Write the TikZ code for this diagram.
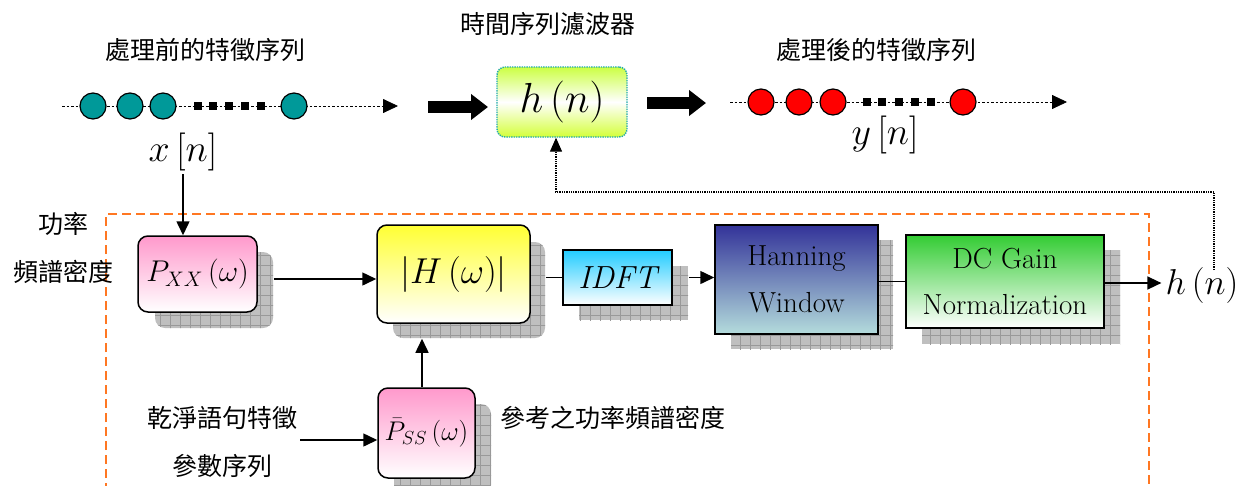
\RequirePackage{fix-cm}
\documentclass[tikz,border=0pt]{standalone}
\usepackage{fontspec}
\newfontfamily\cjk{Noto Sans CJK TC}
\usetikzlibrary{arrows.meta,patterns}
\pgfdeclarepatternformonly{biggrid}{\pgfpoint{-1pt}{-1pt}}{\pgfpoint{11pt}{11pt}}{\pgfpoint{10pt}{10pt}}{%
  \pgfsetlinewidth{0.7pt}%
  \pgfpathmoveto{\pgfpoint{0pt}{0pt}}\pgfpathlineto{\pgfpoint{10pt}{0pt}}%
  \pgfpathmoveto{\pgfpoint{0pt}{0pt}}\pgfpathlineto{\pgfpoint{0pt}{10pt}}%
  \pgfusepath{stroke}}
\definecolor{tealc}{HTML}{009999}
\definecolor{hgreen}{HTML}{CCFF44}
\definecolor{hborder}{HTML}{22AAAA}
\definecolor{pinkc}{HTML}{FF99CC}
\definecolor{yellowc}{HTML}{FFFF33}
\definecolor{cyanc}{HTML}{22CCFF}
\definecolor{navyc}{HTML}{333399}
\definecolor{paletl}{HTML}{B4DCDC}
\definecolor{greenc}{HTML}{33CC33}
\definecolor{orangec}{HTML}{FF7722}
\begin{document}
\begin{tikzpicture}[x=1pt,y=-1pt,
  lbl/.style={font=\cjk\fontsize{25}{30}\selectfont, inner sep=0pt},
  conn/.style={line width=1.5pt, -{Triangle[length=14pt,width=13pt]}},
  plainline/.style={line width=1.5pt},
  rbox/.style={draw=black, line width=1.5pt, rounded corners=10pt, inner sep=0pt},
  sbox/.style={draw=black, line width=1.5pt, inner sep=0pt},
  shadowr/.style={fill=gray!50, rounded corners=10pt, postaction={pattern=biggrid, pattern color=gray!80}},
  shadowsq/.style={fill=gray!50, postaction={pattern=biggrid, pattern color=gray!80}},
  blockarrow/.style={line width=12.5pt, -{Triangle[length=17pt,width=25pt]}},
  seqline/.style={dash pattern=on 2.5pt off 2pt, line width=0.8pt, -{Triangle[length=15pt,width=14pt]}},
  dotc/.style={circle, draw=black, line width=1.2pt, minimum size=26pt, inner sep=0pt},
  sq/.style={fill=black, minimum size=7.5pt, inner sep=0pt},
  fbline/.style={densely dotted, line width=1.3pt, -{Triangle[length=14pt,width=12pt]}},
  mathbig/.style={font=\fontsize{38}{44}\selectfont, inner sep=1pt}
]
\useasboundingbox (0,0) rectangle (1238,485);

% ---------- top row ----------
\node[lbl] (pre) at (205,50) {處理前的特徵序列};
\node[lbl] (filt) at (548,24) {時間序列濾波器};
\node[lbl] (post) at (876,50) {處理後的特徵序列};

% left sequence
\coordinate (l0) at (62,106);
\coordinate (l1) at (398,106);
\draw[seqline] (l0) -- (l1);
\foreach \i/\x in {1/93,2/130,3/163,4/294}
  \node[dotc, fill=tealc] (lc\i) at (\x,106) {};
\foreach \i/\x in {1/198,2/213,3/229,4/245,5/261}
  \node[sq] (ls\i) at (\x,106) {};
\node[mathbig] (xn) at (183,152) {$x\,[n]$};

% block arrow 1
\coordinate (ba1s) at (428,107);
\coordinate (ba1e) at (488,107);
\draw[blockarrow] (ba1s) -- (ba1e);

% filter box
\node[draw=hborder, densely dotted, line width=1.4pt, rounded corners=8pt,
      minimum width=130pt, minimum height=70pt, inner sep=0pt,
      top color=hgreen, bottom color=hgreen!85!yellow, middle color=white,
      font=\fontsize{42}{48}\selectfont] (hbox) at (562,102) {$h\,(n)$};

% block arrow 2
\coordinate (ba2s) at (647,103);
\coordinate (ba2e) at (706,103);
\draw[blockarrow] (ba2s) -- (ba2e);

% right sequence
\coordinate (r0) at (730,102);
\coordinate (r1) at (1067,102);
\draw[seqline] (r0) -- (r1);
\foreach \i/\x in {1/761,2/799,3/833,4/963}
  \node[dotc, fill=red] (rc\i) at (\x,102) {};
\foreach \i/\x in {1/867,2/882,3/899,4/915,5/931}
  \node[sq] (rs\i) at (\x,102) {};
\node[mathbig] (yn) at (885,135) {$y\,[n]$};

% ---------- dashed frame ----------
\draw[orangec, line width=1.8pt, dash pattern=on 9pt off 5pt] (106,492) -- (106,214) -- (1149,214) -- (1149,492);

\node[lbl] (psd1) at (63,224) {功率};
\node[lbl] (psd2) at (63,272) {頻譜密度};

% ---------- shadows ----------
\path[shadowr] (155,252) rectangle (273,328);
\path[shadowr] (393,242) rectangle (545,338);
\path[shadowsq] (579,266) rectangle (688,320);
\path[shadowsq] (731,240) rectangle (893,349);
\path[shadowsq] (922,250) rectangle (1120,344);
\path[shadowr] (394,404) rectangle (491,495);

% ---------- boxes ----------
\node[rbox, minimum width=119pt, minimum height=76pt, top color=pinkc, bottom color=white,
      font=\fontsize{30}{34}\selectfont] (pxx) at (197.5,274) {$P_{XX}\,(\omega)$};
\node[rbox, minimum width=153pt, minimum height=98pt, top color=yellowc, bottom color=white,
      font=\fontsize{36}{42}\selectfont] (hmag) at (453.5,274) {$\left|H\,(\omega)\right|$};
\node[sbox, minimum width=109pt, minimum height=55pt, top color=cyanc, bottom color=white,
      font=\fontsize{32}{36}\selectfont\itshape] (idft) at (617.5,277.5) {IDFT};
\node[sbox, minimum width=163pt, minimum height=109pt, top color=navyc, bottom color=paletl,
      align=center, font=\fontsize{29}{47}\selectfont] (hann) at (796.5,279.5) {Hanning\\Window};
\node[sbox, minimum width=198pt, minimum height=93pt, top color=greenc, bottom color=white,
      align=center, font=\fontsize{29}{46}\selectfont] (dc) at (1005,281.5) {DC Gain\\Normalization};
\node[rbox, minimum width=97pt, minimum height=90pt, top color=pinkc, bottom color=white,
      font=\fontsize{27}{30}\selectfont] (pss) at (426.5,433) {$\bar{P}_{SS}\,(\omega)$};

\node[font=\fontsize{36}{40}\selectfont, inner sep=4pt] (hnlab) at (1202,285) {$h\,(n)$};

% ---------- connectors ----------
\draw[conn] ([yshift=-2pt]xn.south) -- (xn.south |- pxx.north);
\draw[conn] ([shift={(16,5)}]pxx.east) -- ([yshift=-5pt]hmag.west);
\draw[plainline] ([xshift=15pt]hmag.east |- idft.west) -- (idft.west);
\draw[conn] ([xshift=16pt]idft.east) -- (idft.east -| hann.west);
\draw[plainline] (hann.east |- dc.west) -- (dc.west);
\draw[conn] ([yshift=-1.5pt]dc.east) -- ([yshift=-1.5pt]dc.east -| hnlab.west);
\coordinate (hsb) at ([yshift=-15pt]hmag.south);
\draw[conn] (pss.north -| 422,0) -- (hsb -| 422,0);

% feedback
\coordinate (fb1) at (1214,270);
\coordinate (fb2) at (556,192);
\draw[fbline] (fb1) |- (fb2) -- (fb2 |- hbox.south);

% bottom labels
\node[lbl] (clean1) at (222,418) {乾淨語句特徵};
\node[lbl] (clean2) at (222,466) {參數序列};
\coordinate (cin) at (300,440);
\draw[conn] (cin) -- (cin -| pss.west);
\node[lbl, anchor=west] (refpsd) at (500,418) {參考之功率頻譜密度};
\end{tikzpicture}
\end{document}
